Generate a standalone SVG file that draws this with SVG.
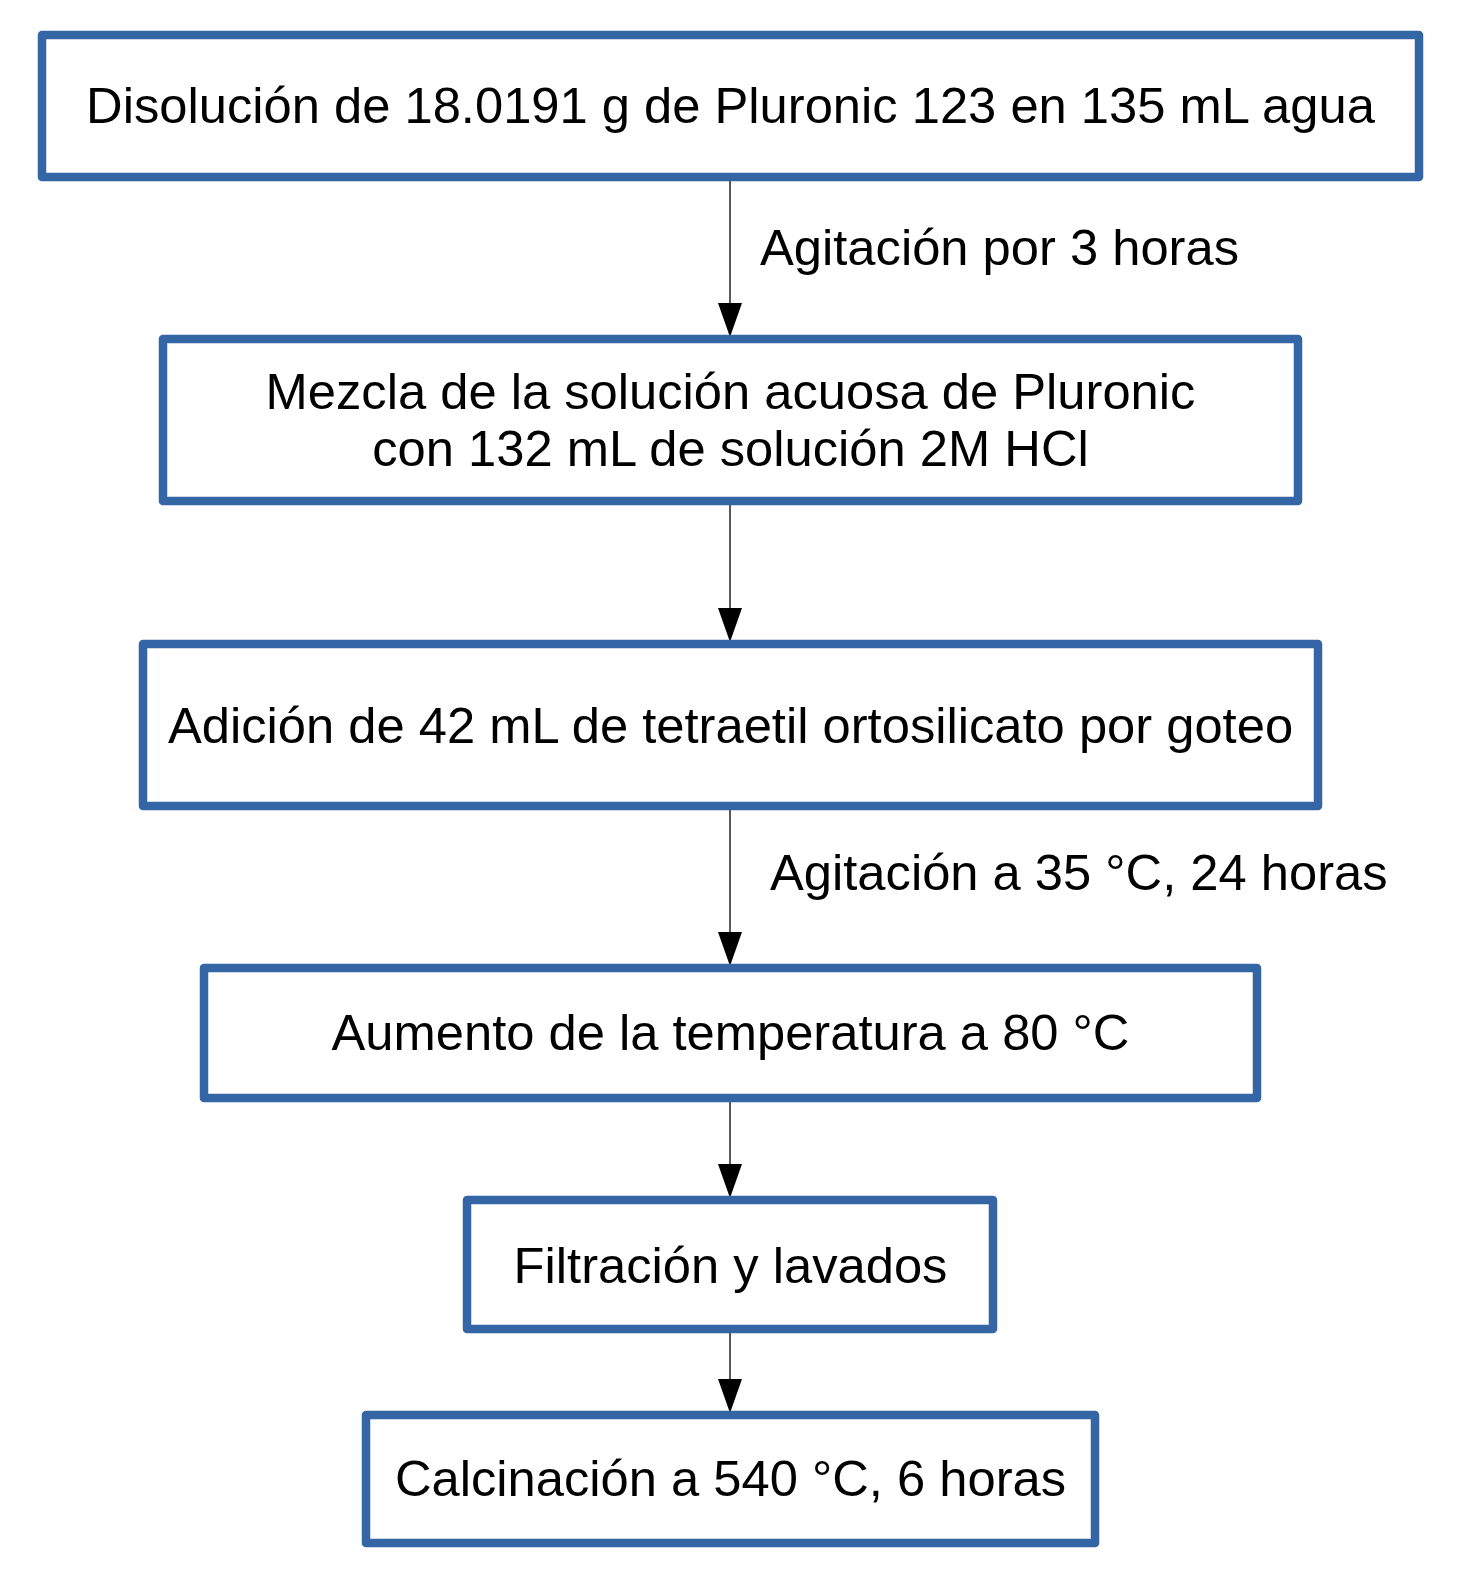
<svg xmlns="http://www.w3.org/2000/svg" width="1473" height="1589" viewBox="0 0 1473 1589">
<defs>
<style>
.box{fill:#ffffff;stroke:#3465a4;stroke-width:8.5;stroke-linejoin:round}
.t{font-family:"Liberation Sans",Arial,sans-serif;font-size:50.7px;fill:#000000}
.c{text-anchor:middle}
.ln{stroke:#000000;stroke-width:1.3;fill:none}
.ah{fill:#000000}
</style>
</defs>
<rect width="1473" height="1589" fill="#ffffff"/>
<g id="connectors">
<line class="ln" x1="730" y1="181" x2="730" y2="305"/>
<polygon class="ah" points="718,303 742,303 730,337"/>
<line class="ln" x1="730" y1="505" x2="730" y2="610"/>
<polygon class="ah" points="718,608 742,608 730,642"/>
<line class="ln" x1="730" y1="810" x2="730" y2="934"/>
<polygon class="ah" points="718,932 742,932 730,966"/>
<line class="ln" x1="730" y1="1102" x2="730" y2="1166"/>
<polygon class="ah" points="718,1164 742,1164 730,1198"/>
<line class="ln" x1="730" y1="1333" x2="730" y2="1381"/>
<polygon class="ah" points="718,1379 742,1379 730,1413"/>
<text class="t" x="760" y="265">Agitación por 3 horas</text>
<text class="t" x="770" y="890">Agitación a 35 °C, 24 horas</text>
</g>
<g id="n1">
<rect class="box" x="42" y="35" width="1377" height="142"/>
<text class="t c" x="730.5" y="123">Disolución de 18.0191 g de Pluronic 123 en 135 mL agua</text>
</g>
<g id="n2">
<rect class="box" x="163" y="339" width="1135" height="162"/>
<text class="t c" x="730.5" y="409">Mezcla de la solución acuosa de Pluronic</text>
<text class="t c" x="730.5" y="466">con 132 mL de solución 2M HCl</text>
</g>
<g id="n3">
<rect class="box" x="143" y="644" width="1175" height="162"/>
<text class="t c" x="730.5" y="743">Adición de 42 mL de tetraetil ortosilicato por goteo</text>
</g>
<g id="n4">
<rect class="box" x="204" y="968" width="1053" height="130"/>
<text class="t c" x="730.5" y="1050">Aumento de la temperatura a 80 °C</text>
</g>
<g id="n5">
<rect class="box" x="467" y="1200" width="526" height="129"/>
<text class="t c" x="730.5" y="1283">Filtración y lavados</text>
</g>
<g id="n6">
<rect class="box" x="366" y="1415" width="729" height="128"/>
<text class="t c" x="730.5" y="1496">Calcinación a 540 °C, 6 horas</text>
</g>
</svg>
